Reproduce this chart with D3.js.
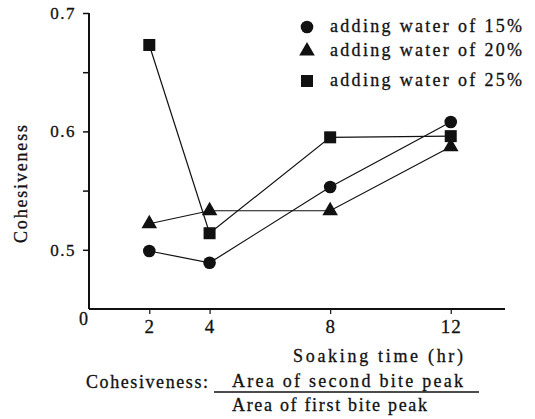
<!DOCTYPE html>
<html>
<head>
<meta charset="utf-8">
<script src="https://cdn.jsdelivr.net/npm/d3@7"></script>
<style>
  body { margin: 0; background: #fff; }
</style>
</head>
<body>
<svg id="chart" width="535" height="419"></svg>
<script>
// soaking time (hr)
const hours = [2, 4, 8, 12];
const water15 = [0.499, 0.489, 0.553, 0.608];
const water20 = [0.522, 0.533, 0.533, 0.587];
const water25 = [0.673, 0.514, 0.595, 0.596];
const seriesNames = ["adding water of 15%", "adding water of 20%", "adding water of 25%"];
const yTicks = [0.5, 0.55, 0.6, 0.65, 0.7];
const yLabels = [0.5, 0.6, 0.7];

const serif = "'Liberation Serif'";
const ink = "#111";

const svg = d3.select("#chart");

const x = d3.scaleLinear().domain([0, 13.8]).range([89, 505]);
const y = d3.scaleLinear().domain([0.45, 0.7]).range([309, 13]);

// axes
const yAxis = svg.append("g")
  .attr("transform", "translate(89,0)")
  .call(d3.axisLeft(y).tickValues(yTicks).tickSize(6)
    .tickFormat(d => yLabels.includes(d) ? d3.format(".1f")(d) : ""));
yAxis.attr("font-family", serif);
yAxis.select(".domain").attr("stroke", ink).attr("stroke-width", 2)
  .attr("d", `M0,${y(0.7)}V${y(0.45)}`);
yAxis.selectAll(".tick line").attr("stroke", ink).attr("stroke-width", 1.5);
yAxis.selectAll(".tick text")
  .attr("x", -13)
  .attr("font-size", 17)
  .attr("letter-spacing", 1.5)
  .attr("fill", ink)
  .attr("stroke", ink).attr("stroke-width", 0.3);

const xAxis = svg.append("g")
  .attr("transform", "translate(0,309)")
  .call(d3.axisBottom(x).tickValues(hours).tickSize(5));
xAxis.attr("font-family", serif);
xAxis.select(".domain").attr("stroke", ink).attr("stroke-width", 2)
  .attr("d", `M${x(0)},0H${x(13.8)}`);
xAxis.selectAll(".tick line").attr("stroke", ink).attr("stroke-width", 1.2);
xAxis.selectAll(".tick text")
  .attr("y", 24).attr("dy", null)
  .attr("font-size", 19)
  .attr("letter-spacing", 1)
  .attr("fill", ink)
  .attr("stroke", ink).attr("stroke-width", 0.3);

function label(txt, px, py, len, size) {
  const t = svg.append("text").attr("x", px).attr("y", py)
    .attr("font-family", serif).attr("font-size", size || 18)
    .attr("fill", ink).attr("stroke", ink).attr("stroke-width", 0.3)
    .text(txt);
  if (len) t.attr("textLength", len).attr("lengthAdjust", "spacing");
  return t;
}

// origin label
label("0", 83.5, 325, null, 18).attr("text-anchor", "middle");

// y title
svg.append("text")
  .attr("transform", "translate(27,184) rotate(-90)")
  .attr("text-anchor", "middle")
  .attr("font-family", serif).attr("font-size", 18)
  .attr("fill", ink).attr("stroke", ink).attr("stroke-width", 0.3)
  .attr("textLength", 118).attr("lengthAdjust", "spacing")
  .text("Cohesiveness");

// x title
label("Soaking time (hr)", 293, 362, 170);

// formula
label("Cohesiveness:", 86, 388, 122);
label("Area of second bite peak", 232, 387, 231);
svg.append("line").attr("x1", 214).attr("x2", 479).attr("y1", 392).attr("y2", 392)
  .attr("stroke", ink).attr("stroke-width", 1.4);
label("Area of first bite peak", 232, 411, 195);

// lines and markers
const series = [water15, water20, water25];
const line = d3.line().x((d, i) => x(hours[i])).y(d => y(d));

series.forEach(vals => {
  svg.append("path").datum(vals)
    .attr("d", line)
    .attr("fill", "none")
    .attr("stroke", ink)
    .attr("stroke-width", 1.2);
});

function marker(g, kind, cx, cy) {
  if (kind === 0) {
    g.append("circle").attr("cx", cx).attr("cy", cy).attr("r", 6.3).attr("fill", ink);
  } else if (kind === 1) {
    g.append("path").attr("d", d3.symbol(d3.symbolTriangle, 105)())
      .attr("transform", `translate(${cx},${cy})`).attr("fill", ink);
  } else {
    g.append("rect").attr("x", cx - 6).attr("y", cy - 6)
      .attr("width", 12).attr("height", 12).attr("fill", ink);
  }
}

const marks = svg.append("g");
series.forEach((vals, k) => {
  vals.forEach((v, i) => marker(marks, k, x(hours[i]), y(v)));
});

// legend
const legendY = [27, 51, 81];
const legend = svg.append("g");
seriesNames.forEach((name, k) => {
  marker(legend, k, 307, legendY[k]);
  legend.append("text")
    .attr("x", 330).attr("y", legendY[k] + 5)
    .attr("font-family", serif).attr("font-size", 18)
    .attr("fill", ink).attr("stroke", ink).attr("stroke-width", 0.3)
    .attr("textLength", 192).attr("lengthAdjust", "spacing")
    .text(name);
});
</script>
</body>
</html>
